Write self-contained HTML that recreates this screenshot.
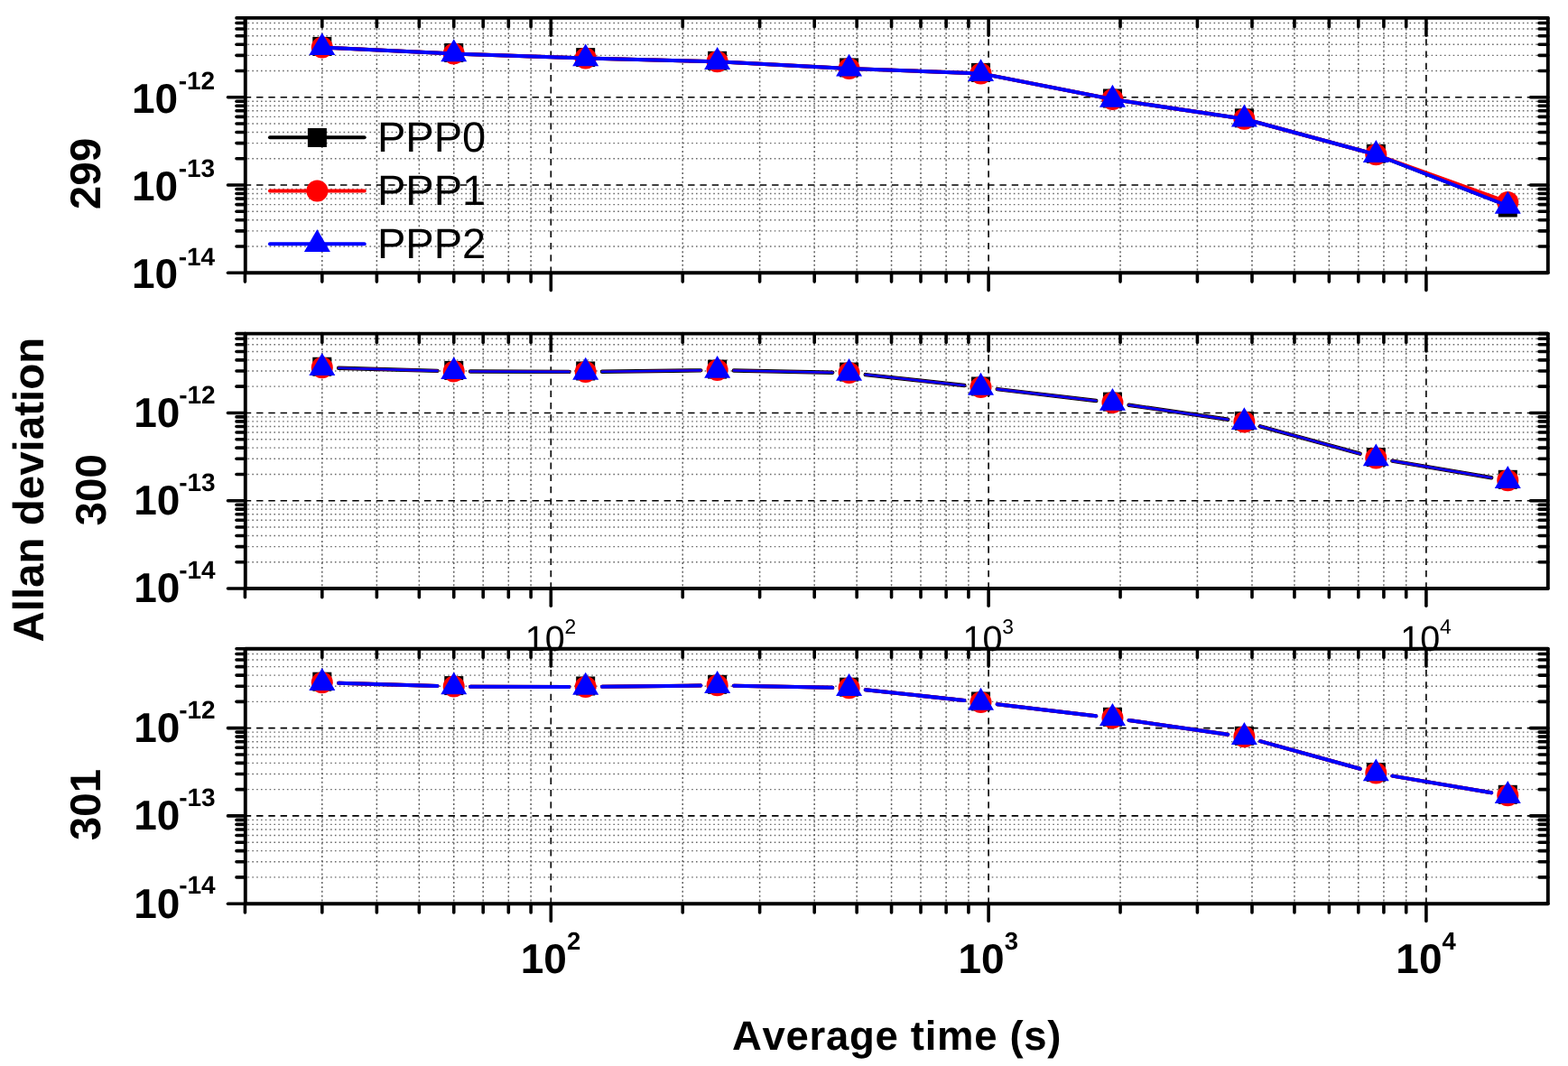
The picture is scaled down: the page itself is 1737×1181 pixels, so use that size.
<!DOCTYPE html>
<html><head><meta charset="utf-8"><title>Allan deviation</title>
<style>html,body{margin:0;padding:0;background:#fff;width:1737px;height:1181px;overflow:hidden}svg{display:block}</style>
</head><body>
<svg width="1737" height="1181" viewBox="0 0 1737 1181" style="font-kerning:none;text-rendering:geometricPrecision">
<rect width="1737" height="1181" fill="#fff"/>
<g fill="none">
<line x1="356.81" y1="19.9" x2="356.81" y2="302.3" stroke="#606060" stroke-width="1.5" stroke-dasharray="2 2.84" stroke-dashoffset="3.04"/>
<line x1="417.38" y1="19.9" x2="417.38" y2="302.3" stroke="#606060" stroke-width="1.5" stroke-dasharray="2 2.84" stroke-dashoffset="3.04"/>
<line x1="464.36" y1="19.9" x2="464.36" y2="302.3" stroke="#606060" stroke-width="1.5" stroke-dasharray="2 2.84" stroke-dashoffset="3.04"/>
<line x1="502.75" y1="19.9" x2="502.75" y2="302.3" stroke="#606060" stroke-width="1.5" stroke-dasharray="2 2.84" stroke-dashoffset="3.04"/>
<line x1="535.2" y1="19.9" x2="535.2" y2="302.3" stroke="#606060" stroke-width="1.5" stroke-dasharray="2 2.84" stroke-dashoffset="3.04"/>
<line x1="563.32" y1="19.9" x2="563.32" y2="302.3" stroke="#606060" stroke-width="1.5" stroke-dasharray="2 2.84" stroke-dashoffset="3.04"/>
<line x1="588.12" y1="19.9" x2="588.12" y2="302.3" stroke="#606060" stroke-width="1.5" stroke-dasharray="2 2.84" stroke-dashoffset="3.04"/>
<line x1="756.24" y1="19.9" x2="756.24" y2="302.3" stroke="#606060" stroke-width="1.5" stroke-dasharray="2 2.84" stroke-dashoffset="3.04"/>
<line x1="841.61" y1="19.9" x2="841.61" y2="302.3" stroke="#606060" stroke-width="1.5" stroke-dasharray="2 2.84" stroke-dashoffset="3.04"/>
<line x1="902.18" y1="19.9" x2="902.18" y2="302.3" stroke="#606060" stroke-width="1.5" stroke-dasharray="2 2.84" stroke-dashoffset="3.04"/>
<line x1="949.16" y1="19.9" x2="949.16" y2="302.3" stroke="#606060" stroke-width="1.5" stroke-dasharray="2 2.84" stroke-dashoffset="3.04"/>
<line x1="987.55" y1="19.9" x2="987.55" y2="302.3" stroke="#606060" stroke-width="1.5" stroke-dasharray="2 2.84" stroke-dashoffset="3.04"/>
<line x1="1020" y1="19.9" x2="1020" y2="302.3" stroke="#606060" stroke-width="1.5" stroke-dasharray="2 2.84" stroke-dashoffset="3.04"/>
<line x1="1048.12" y1="19.9" x2="1048.12" y2="302.3" stroke="#606060" stroke-width="1.5" stroke-dasharray="2 2.84" stroke-dashoffset="3.04"/>
<line x1="1072.92" y1="19.9" x2="1072.92" y2="302.3" stroke="#606060" stroke-width="1.5" stroke-dasharray="2 2.84" stroke-dashoffset="3.04"/>
<line x1="1241.04" y1="19.9" x2="1241.04" y2="302.3" stroke="#606060" stroke-width="1.5" stroke-dasharray="2 2.84" stroke-dashoffset="3.04"/>
<line x1="1326.41" y1="19.9" x2="1326.41" y2="302.3" stroke="#606060" stroke-width="1.5" stroke-dasharray="2 2.84" stroke-dashoffset="3.04"/>
<line x1="1386.98" y1="19.9" x2="1386.98" y2="302.3" stroke="#606060" stroke-width="1.5" stroke-dasharray="2 2.84" stroke-dashoffset="3.04"/>
<line x1="1433.96" y1="19.9" x2="1433.96" y2="302.3" stroke="#606060" stroke-width="1.5" stroke-dasharray="2 2.84" stroke-dashoffset="3.04"/>
<line x1="1472.35" y1="19.9" x2="1472.35" y2="302.3" stroke="#606060" stroke-width="1.5" stroke-dasharray="2 2.84" stroke-dashoffset="3.04"/>
<line x1="1504.8" y1="19.9" x2="1504.8" y2="302.3" stroke="#606060" stroke-width="1.5" stroke-dasharray="2 2.84" stroke-dashoffset="3.04"/>
<line x1="1532.92" y1="19.9" x2="1532.92" y2="302.3" stroke="#606060" stroke-width="1.5" stroke-dasharray="2 2.84" stroke-dashoffset="3.04"/>
<line x1="1557.72" y1="19.9" x2="1557.72" y2="302.3" stroke="#606060" stroke-width="1.5" stroke-dasharray="2 2.84" stroke-dashoffset="3.04"/>
<line x1="271.8" y1="273.02" x2="1714.8" y2="273.02" stroke="#6a6a6a" stroke-width="1.4" stroke-dasharray="1.6 3.22" stroke-dashoffset="2.1"/>
<line x1="271.8" y1="255.89" x2="1714.8" y2="255.89" stroke="#6a6a6a" stroke-width="1.4" stroke-dasharray="1.6 3.22" stroke-dashoffset="2.1"/>
<line x1="271.8" y1="243.73" x2="1714.8" y2="243.73" stroke="#6a6a6a" stroke-width="1.4" stroke-dasharray="1.6 3.22" stroke-dashoffset="2.1"/>
<line x1="271.8" y1="234.31" x2="1714.8" y2="234.31" stroke="#6a6a6a" stroke-width="1.4" stroke-dasharray="1.6 3.22" stroke-dashoffset="2.1"/>
<line x1="271.8" y1="226.6" x2="1714.8" y2="226.6" stroke="#6a6a6a" stroke-width="1.4" stroke-dasharray="1.6 3.22" stroke-dashoffset="2.1"/>
<line x1="271.8" y1="220.09" x2="1714.8" y2="220.09" stroke="#6a6a6a" stroke-width="1.4" stroke-dasharray="1.6 3.22" stroke-dashoffset="2.1"/>
<line x1="271.8" y1="214.45" x2="1714.8" y2="214.45" stroke="#6a6a6a" stroke-width="1.4" stroke-dasharray="1.6 3.22" stroke-dashoffset="2.1"/>
<line x1="271.8" y1="209.48" x2="1714.8" y2="209.48" stroke="#6a6a6a" stroke-width="1.4" stroke-dasharray="1.6 3.22" stroke-dashoffset="2.1"/>
<line x1="271.8" y1="175.74" x2="1714.8" y2="175.74" stroke="#6a6a6a" stroke-width="1.4" stroke-dasharray="1.6 3.22" stroke-dashoffset="2.1"/>
<line x1="271.8" y1="158.61" x2="1714.8" y2="158.61" stroke="#6a6a6a" stroke-width="1.4" stroke-dasharray="1.6 3.22" stroke-dashoffset="2.1"/>
<line x1="271.8" y1="146.46" x2="1714.8" y2="146.46" stroke="#6a6a6a" stroke-width="1.4" stroke-dasharray="1.6 3.22" stroke-dashoffset="2.1"/>
<line x1="271.8" y1="137.03" x2="1714.8" y2="137.03" stroke="#6a6a6a" stroke-width="1.4" stroke-dasharray="1.6 3.22" stroke-dashoffset="2.1"/>
<line x1="271.8" y1="129.33" x2="1714.8" y2="129.33" stroke="#6a6a6a" stroke-width="1.4" stroke-dasharray="1.6 3.22" stroke-dashoffset="2.1"/>
<line x1="271.8" y1="122.82" x2="1714.8" y2="122.82" stroke="#6a6a6a" stroke-width="1.4" stroke-dasharray="1.6 3.22" stroke-dashoffset="2.1"/>
<line x1="271.8" y1="117.18" x2="1714.8" y2="117.18" stroke="#6a6a6a" stroke-width="1.4" stroke-dasharray="1.6 3.22" stroke-dashoffset="2.1"/>
<line x1="271.8" y1="112.2" x2="1714.8" y2="112.2" stroke="#6a6a6a" stroke-width="1.4" stroke-dasharray="1.6 3.22" stroke-dashoffset="2.1"/>
<line x1="271.8" y1="78.47" x2="1714.8" y2="78.47" stroke="#6a6a6a" stroke-width="1.4" stroke-dasharray="1.6 3.22" stroke-dashoffset="2.1"/>
<line x1="271.8" y1="61.34" x2="1714.8" y2="61.34" stroke="#6a6a6a" stroke-width="1.4" stroke-dasharray="1.6 3.22" stroke-dashoffset="2.1"/>
<line x1="271.8" y1="49.18" x2="1714.8" y2="49.18" stroke="#6a6a6a" stroke-width="1.4" stroke-dasharray="1.6 3.22" stroke-dashoffset="2.1"/>
<line x1="271.8" y1="39.76" x2="1714.8" y2="39.76" stroke="#6a6a6a" stroke-width="1.4" stroke-dasharray="1.6 3.22" stroke-dashoffset="2.1"/>
<line x1="271.8" y1="32.05" x2="1714.8" y2="32.05" stroke="#6a6a6a" stroke-width="1.4" stroke-dasharray="1.6 3.22" stroke-dashoffset="2.1"/>
<line x1="271.8" y1="25.54" x2="1714.8" y2="25.54" stroke="#6a6a6a" stroke-width="1.4" stroke-dasharray="1.6 3.22" stroke-dashoffset="2.1"/>
</g>
<g stroke="#000" stroke-width="1.6" fill="none">
<line x1="610.3" y1="19.9" x2="610.3" y2="302.3" stroke-dasharray="7.3 5.98" stroke-dashoffset="3.28"/>
<line x1="1095.1" y1="19.9" x2="1095.1" y2="302.3" stroke-dasharray="7.3 5.98" stroke-dashoffset="3.28"/>
<line x1="1579.9" y1="19.9" x2="1579.9" y2="302.3" stroke-dasharray="7.3 5.98" stroke-dashoffset="3.28"/>
<line x1="271.8" y1="107.75" x2="1714.8" y2="107.75" stroke-dasharray="7.4 5.88" stroke-dashoffset="1.0"/>
<line x1="271.8" y1="205.02" x2="1714.8" y2="205.02" stroke-dasharray="7.4 5.88" stroke-dashoffset="1.0"/>
</g>
<g fill="none">
<line x1="356.81" y1="369.6" x2="356.81" y2="652" stroke="#606060" stroke-width="1.5" stroke-dasharray="2 2.84" stroke-dashoffset="3.04"/>
<line x1="417.38" y1="369.6" x2="417.38" y2="652" stroke="#606060" stroke-width="1.5" stroke-dasharray="2 2.84" stroke-dashoffset="3.04"/>
<line x1="464.36" y1="369.6" x2="464.36" y2="652" stroke="#606060" stroke-width="1.5" stroke-dasharray="2 2.84" stroke-dashoffset="3.04"/>
<line x1="502.75" y1="369.6" x2="502.75" y2="652" stroke="#606060" stroke-width="1.5" stroke-dasharray="2 2.84" stroke-dashoffset="3.04"/>
<line x1="535.2" y1="369.6" x2="535.2" y2="652" stroke="#606060" stroke-width="1.5" stroke-dasharray="2 2.84" stroke-dashoffset="3.04"/>
<line x1="563.32" y1="369.6" x2="563.32" y2="652" stroke="#606060" stroke-width="1.5" stroke-dasharray="2 2.84" stroke-dashoffset="3.04"/>
<line x1="588.12" y1="369.6" x2="588.12" y2="652" stroke="#606060" stroke-width="1.5" stroke-dasharray="2 2.84" stroke-dashoffset="3.04"/>
<line x1="756.24" y1="369.6" x2="756.24" y2="652" stroke="#606060" stroke-width="1.5" stroke-dasharray="2 2.84" stroke-dashoffset="3.04"/>
<line x1="841.61" y1="369.6" x2="841.61" y2="652" stroke="#606060" stroke-width="1.5" stroke-dasharray="2 2.84" stroke-dashoffset="3.04"/>
<line x1="902.18" y1="369.6" x2="902.18" y2="652" stroke="#606060" stroke-width="1.5" stroke-dasharray="2 2.84" stroke-dashoffset="3.04"/>
<line x1="949.16" y1="369.6" x2="949.16" y2="652" stroke="#606060" stroke-width="1.5" stroke-dasharray="2 2.84" stroke-dashoffset="3.04"/>
<line x1="987.55" y1="369.6" x2="987.55" y2="652" stroke="#606060" stroke-width="1.5" stroke-dasharray="2 2.84" stroke-dashoffset="3.04"/>
<line x1="1020" y1="369.6" x2="1020" y2="652" stroke="#606060" stroke-width="1.5" stroke-dasharray="2 2.84" stroke-dashoffset="3.04"/>
<line x1="1048.12" y1="369.6" x2="1048.12" y2="652" stroke="#606060" stroke-width="1.5" stroke-dasharray="2 2.84" stroke-dashoffset="3.04"/>
<line x1="1072.92" y1="369.6" x2="1072.92" y2="652" stroke="#606060" stroke-width="1.5" stroke-dasharray="2 2.84" stroke-dashoffset="3.04"/>
<line x1="1241.04" y1="369.6" x2="1241.04" y2="652" stroke="#606060" stroke-width="1.5" stroke-dasharray="2 2.84" stroke-dashoffset="3.04"/>
<line x1="1326.41" y1="369.6" x2="1326.41" y2="652" stroke="#606060" stroke-width="1.5" stroke-dasharray="2 2.84" stroke-dashoffset="3.04"/>
<line x1="1386.98" y1="369.6" x2="1386.98" y2="652" stroke="#606060" stroke-width="1.5" stroke-dasharray="2 2.84" stroke-dashoffset="3.04"/>
<line x1="1433.96" y1="369.6" x2="1433.96" y2="652" stroke="#606060" stroke-width="1.5" stroke-dasharray="2 2.84" stroke-dashoffset="3.04"/>
<line x1="1472.35" y1="369.6" x2="1472.35" y2="652" stroke="#606060" stroke-width="1.5" stroke-dasharray="2 2.84" stroke-dashoffset="3.04"/>
<line x1="1504.8" y1="369.6" x2="1504.8" y2="652" stroke="#606060" stroke-width="1.5" stroke-dasharray="2 2.84" stroke-dashoffset="3.04"/>
<line x1="1532.92" y1="369.6" x2="1532.92" y2="652" stroke="#606060" stroke-width="1.5" stroke-dasharray="2 2.84" stroke-dashoffset="3.04"/>
<line x1="1557.72" y1="369.6" x2="1557.72" y2="652" stroke="#606060" stroke-width="1.5" stroke-dasharray="2 2.84" stroke-dashoffset="3.04"/>
<line x1="271.8" y1="622.72" x2="1714.8" y2="622.72" stroke="#6a6a6a" stroke-width="1.4" stroke-dasharray="1.6 3.22" stroke-dashoffset="2.1"/>
<line x1="271.8" y1="605.59" x2="1714.8" y2="605.59" stroke="#6a6a6a" stroke-width="1.4" stroke-dasharray="1.6 3.22" stroke-dashoffset="2.1"/>
<line x1="271.8" y1="593.43" x2="1714.8" y2="593.43" stroke="#6a6a6a" stroke-width="1.4" stroke-dasharray="1.6 3.22" stroke-dashoffset="2.1"/>
<line x1="271.8" y1="584.01" x2="1714.8" y2="584.01" stroke="#6a6a6a" stroke-width="1.4" stroke-dasharray="1.6 3.22" stroke-dashoffset="2.1"/>
<line x1="271.8" y1="576.3" x2="1714.8" y2="576.3" stroke="#6a6a6a" stroke-width="1.4" stroke-dasharray="1.6 3.22" stroke-dashoffset="2.1"/>
<line x1="271.8" y1="569.79" x2="1714.8" y2="569.79" stroke="#6a6a6a" stroke-width="1.4" stroke-dasharray="1.6 3.22" stroke-dashoffset="2.1"/>
<line x1="271.8" y1="564.15" x2="1714.8" y2="564.15" stroke="#6a6a6a" stroke-width="1.4" stroke-dasharray="1.6 3.22" stroke-dashoffset="2.1"/>
<line x1="271.8" y1="559.18" x2="1714.8" y2="559.18" stroke="#6a6a6a" stroke-width="1.4" stroke-dasharray="1.6 3.22" stroke-dashoffset="2.1"/>
<line x1="271.8" y1="525.44" x2="1714.8" y2="525.44" stroke="#6a6a6a" stroke-width="1.4" stroke-dasharray="1.6 3.22" stroke-dashoffset="2.1"/>
<line x1="271.8" y1="508.31" x2="1714.8" y2="508.31" stroke="#6a6a6a" stroke-width="1.4" stroke-dasharray="1.6 3.22" stroke-dashoffset="2.1"/>
<line x1="271.8" y1="496.16" x2="1714.8" y2="496.16" stroke="#6a6a6a" stroke-width="1.4" stroke-dasharray="1.6 3.22" stroke-dashoffset="2.1"/>
<line x1="271.8" y1="486.73" x2="1714.8" y2="486.73" stroke="#6a6a6a" stroke-width="1.4" stroke-dasharray="1.6 3.22" stroke-dashoffset="2.1"/>
<line x1="271.8" y1="479.03" x2="1714.8" y2="479.03" stroke="#6a6a6a" stroke-width="1.4" stroke-dasharray="1.6 3.22" stroke-dashoffset="2.1"/>
<line x1="271.8" y1="472.52" x2="1714.8" y2="472.52" stroke="#6a6a6a" stroke-width="1.4" stroke-dasharray="1.6 3.22" stroke-dashoffset="2.1"/>
<line x1="271.8" y1="466.88" x2="1714.8" y2="466.88" stroke="#6a6a6a" stroke-width="1.4" stroke-dasharray="1.6 3.22" stroke-dashoffset="2.1"/>
<line x1="271.8" y1="461.9" x2="1714.8" y2="461.9" stroke="#6a6a6a" stroke-width="1.4" stroke-dasharray="1.6 3.22" stroke-dashoffset="2.1"/>
<line x1="271.8" y1="428.17" x2="1714.8" y2="428.17" stroke="#6a6a6a" stroke-width="1.4" stroke-dasharray="1.6 3.22" stroke-dashoffset="2.1"/>
<line x1="271.8" y1="411.04" x2="1714.8" y2="411.04" stroke="#6a6a6a" stroke-width="1.4" stroke-dasharray="1.6 3.22" stroke-dashoffset="2.1"/>
<line x1="271.8" y1="398.88" x2="1714.8" y2="398.88" stroke="#6a6a6a" stroke-width="1.4" stroke-dasharray="1.6 3.22" stroke-dashoffset="2.1"/>
<line x1="271.8" y1="389.46" x2="1714.8" y2="389.46" stroke="#6a6a6a" stroke-width="1.4" stroke-dasharray="1.6 3.22" stroke-dashoffset="2.1"/>
<line x1="271.8" y1="381.75" x2="1714.8" y2="381.75" stroke="#6a6a6a" stroke-width="1.4" stroke-dasharray="1.6 3.22" stroke-dashoffset="2.1"/>
<line x1="271.8" y1="375.24" x2="1714.8" y2="375.24" stroke="#6a6a6a" stroke-width="1.4" stroke-dasharray="1.6 3.22" stroke-dashoffset="2.1"/>
</g>
<g stroke="#000" stroke-width="1.6" fill="none">
<line x1="610.3" y1="369.6" x2="610.3" y2="652" stroke-dasharray="7.3 5.98" stroke-dashoffset="3.28"/>
<line x1="1095.1" y1="369.6" x2="1095.1" y2="652" stroke-dasharray="7.3 5.98" stroke-dashoffset="3.28"/>
<line x1="1579.9" y1="369.6" x2="1579.9" y2="652" stroke-dasharray="7.3 5.98" stroke-dashoffset="3.28"/>
<line x1="271.8" y1="457.45" x2="1714.8" y2="457.45" stroke-dasharray="7.4 5.88" stroke-dashoffset="1.0"/>
<line x1="271.8" y1="554.72" x2="1714.8" y2="554.72" stroke-dasharray="7.4 5.88" stroke-dashoffset="1.0"/>
</g>
<g fill="none">
<line x1="356.81" y1="718.8" x2="356.81" y2="1001.2" stroke="#606060" stroke-width="1.5" stroke-dasharray="2 2.84" stroke-dashoffset="3.04"/>
<line x1="417.38" y1="718.8" x2="417.38" y2="1001.2" stroke="#606060" stroke-width="1.5" stroke-dasharray="2 2.84" stroke-dashoffset="3.04"/>
<line x1="464.36" y1="718.8" x2="464.36" y2="1001.2" stroke="#606060" stroke-width="1.5" stroke-dasharray="2 2.84" stroke-dashoffset="3.04"/>
<line x1="502.75" y1="718.8" x2="502.75" y2="1001.2" stroke="#606060" stroke-width="1.5" stroke-dasharray="2 2.84" stroke-dashoffset="3.04"/>
<line x1="535.2" y1="718.8" x2="535.2" y2="1001.2" stroke="#606060" stroke-width="1.5" stroke-dasharray="2 2.84" stroke-dashoffset="3.04"/>
<line x1="563.32" y1="718.8" x2="563.32" y2="1001.2" stroke="#606060" stroke-width="1.5" stroke-dasharray="2 2.84" stroke-dashoffset="3.04"/>
<line x1="588.12" y1="718.8" x2="588.12" y2="1001.2" stroke="#606060" stroke-width="1.5" stroke-dasharray="2 2.84" stroke-dashoffset="3.04"/>
<line x1="756.24" y1="718.8" x2="756.24" y2="1001.2" stroke="#606060" stroke-width="1.5" stroke-dasharray="2 2.84" stroke-dashoffset="3.04"/>
<line x1="841.61" y1="718.8" x2="841.61" y2="1001.2" stroke="#606060" stroke-width="1.5" stroke-dasharray="2 2.84" stroke-dashoffset="3.04"/>
<line x1="902.18" y1="718.8" x2="902.18" y2="1001.2" stroke="#606060" stroke-width="1.5" stroke-dasharray="2 2.84" stroke-dashoffset="3.04"/>
<line x1="949.16" y1="718.8" x2="949.16" y2="1001.2" stroke="#606060" stroke-width="1.5" stroke-dasharray="2 2.84" stroke-dashoffset="3.04"/>
<line x1="987.55" y1="718.8" x2="987.55" y2="1001.2" stroke="#606060" stroke-width="1.5" stroke-dasharray="2 2.84" stroke-dashoffset="3.04"/>
<line x1="1020" y1="718.8" x2="1020" y2="1001.2" stroke="#606060" stroke-width="1.5" stroke-dasharray="2 2.84" stroke-dashoffset="3.04"/>
<line x1="1048.12" y1="718.8" x2="1048.12" y2="1001.2" stroke="#606060" stroke-width="1.5" stroke-dasharray="2 2.84" stroke-dashoffset="3.04"/>
<line x1="1072.92" y1="718.8" x2="1072.92" y2="1001.2" stroke="#606060" stroke-width="1.5" stroke-dasharray="2 2.84" stroke-dashoffset="3.04"/>
<line x1="1241.04" y1="718.8" x2="1241.04" y2="1001.2" stroke="#606060" stroke-width="1.5" stroke-dasharray="2 2.84" stroke-dashoffset="3.04"/>
<line x1="1326.41" y1="718.8" x2="1326.41" y2="1001.2" stroke="#606060" stroke-width="1.5" stroke-dasharray="2 2.84" stroke-dashoffset="3.04"/>
<line x1="1386.98" y1="718.8" x2="1386.98" y2="1001.2" stroke="#606060" stroke-width="1.5" stroke-dasharray="2 2.84" stroke-dashoffset="3.04"/>
<line x1="1433.96" y1="718.8" x2="1433.96" y2="1001.2" stroke="#606060" stroke-width="1.5" stroke-dasharray="2 2.84" stroke-dashoffset="3.04"/>
<line x1="1472.35" y1="718.8" x2="1472.35" y2="1001.2" stroke="#606060" stroke-width="1.5" stroke-dasharray="2 2.84" stroke-dashoffset="3.04"/>
<line x1="1504.8" y1="718.8" x2="1504.8" y2="1001.2" stroke="#606060" stroke-width="1.5" stroke-dasharray="2 2.84" stroke-dashoffset="3.04"/>
<line x1="1532.92" y1="718.8" x2="1532.92" y2="1001.2" stroke="#606060" stroke-width="1.5" stroke-dasharray="2 2.84" stroke-dashoffset="3.04"/>
<line x1="1557.72" y1="718.8" x2="1557.72" y2="1001.2" stroke="#606060" stroke-width="1.5" stroke-dasharray="2 2.84" stroke-dashoffset="3.04"/>
<line x1="271.8" y1="971.92" x2="1714.8" y2="971.92" stroke="#6a6a6a" stroke-width="1.4" stroke-dasharray="1.6 3.22" stroke-dashoffset="2.1"/>
<line x1="271.8" y1="954.79" x2="1714.8" y2="954.79" stroke="#6a6a6a" stroke-width="1.4" stroke-dasharray="1.6 3.22" stroke-dashoffset="2.1"/>
<line x1="271.8" y1="942.63" x2="1714.8" y2="942.63" stroke="#6a6a6a" stroke-width="1.4" stroke-dasharray="1.6 3.22" stroke-dashoffset="2.1"/>
<line x1="271.8" y1="933.21" x2="1714.8" y2="933.21" stroke="#6a6a6a" stroke-width="1.4" stroke-dasharray="1.6 3.22" stroke-dashoffset="2.1"/>
<line x1="271.8" y1="925.5" x2="1714.8" y2="925.5" stroke="#6a6a6a" stroke-width="1.4" stroke-dasharray="1.6 3.22" stroke-dashoffset="2.1"/>
<line x1="271.8" y1="918.99" x2="1714.8" y2="918.99" stroke="#6a6a6a" stroke-width="1.4" stroke-dasharray="1.6 3.22" stroke-dashoffset="2.1"/>
<line x1="271.8" y1="913.35" x2="1714.8" y2="913.35" stroke="#6a6a6a" stroke-width="1.4" stroke-dasharray="1.6 3.22" stroke-dashoffset="2.1"/>
<line x1="271.8" y1="908.38" x2="1714.8" y2="908.38" stroke="#6a6a6a" stroke-width="1.4" stroke-dasharray="1.6 3.22" stroke-dashoffset="2.1"/>
<line x1="271.8" y1="874.64" x2="1714.8" y2="874.64" stroke="#6a6a6a" stroke-width="1.4" stroke-dasharray="1.6 3.22" stroke-dashoffset="2.1"/>
<line x1="271.8" y1="857.51" x2="1714.8" y2="857.51" stroke="#6a6a6a" stroke-width="1.4" stroke-dasharray="1.6 3.22" stroke-dashoffset="2.1"/>
<line x1="271.8" y1="845.36" x2="1714.8" y2="845.36" stroke="#6a6a6a" stroke-width="1.4" stroke-dasharray="1.6 3.22" stroke-dashoffset="2.1"/>
<line x1="271.8" y1="835.93" x2="1714.8" y2="835.93" stroke="#6a6a6a" stroke-width="1.4" stroke-dasharray="1.6 3.22" stroke-dashoffset="2.1"/>
<line x1="271.8" y1="828.23" x2="1714.8" y2="828.23" stroke="#6a6a6a" stroke-width="1.4" stroke-dasharray="1.6 3.22" stroke-dashoffset="2.1"/>
<line x1="271.8" y1="821.72" x2="1714.8" y2="821.72" stroke="#6a6a6a" stroke-width="1.4" stroke-dasharray="1.6 3.22" stroke-dashoffset="2.1"/>
<line x1="271.8" y1="816.08" x2="1714.8" y2="816.08" stroke="#6a6a6a" stroke-width="1.4" stroke-dasharray="1.6 3.22" stroke-dashoffset="2.1"/>
<line x1="271.8" y1="811.1" x2="1714.8" y2="811.1" stroke="#6a6a6a" stroke-width="1.4" stroke-dasharray="1.6 3.22" stroke-dashoffset="2.1"/>
<line x1="271.8" y1="777.37" x2="1714.8" y2="777.37" stroke="#6a6a6a" stroke-width="1.4" stroke-dasharray="1.6 3.22" stroke-dashoffset="2.1"/>
<line x1="271.8" y1="760.24" x2="1714.8" y2="760.24" stroke="#6a6a6a" stroke-width="1.4" stroke-dasharray="1.6 3.22" stroke-dashoffset="2.1"/>
<line x1="271.8" y1="748.08" x2="1714.8" y2="748.08" stroke="#6a6a6a" stroke-width="1.4" stroke-dasharray="1.6 3.22" stroke-dashoffset="2.1"/>
<line x1="271.8" y1="738.66" x2="1714.8" y2="738.66" stroke="#6a6a6a" stroke-width="1.4" stroke-dasharray="1.6 3.22" stroke-dashoffset="2.1"/>
<line x1="271.8" y1="730.95" x2="1714.8" y2="730.95" stroke="#6a6a6a" stroke-width="1.4" stroke-dasharray="1.6 3.22" stroke-dashoffset="2.1"/>
<line x1="271.8" y1="724.44" x2="1714.8" y2="724.44" stroke="#6a6a6a" stroke-width="1.4" stroke-dasharray="1.6 3.22" stroke-dashoffset="2.1"/>
</g>
<g stroke="#000" stroke-width="1.6" fill="none">
<line x1="610.3" y1="718.8" x2="610.3" y2="1001.2" stroke-dasharray="7.3 5.98" stroke-dashoffset="3.28"/>
<line x1="1095.1" y1="718.8" x2="1095.1" y2="1001.2" stroke-dasharray="7.3 5.98" stroke-dashoffset="3.28"/>
<line x1="1579.9" y1="718.8" x2="1579.9" y2="1001.2" stroke-dasharray="7.3 5.98" stroke-dashoffset="3.28"/>
<line x1="271.8" y1="806.65" x2="1714.8" y2="806.65" stroke-dasharray="7.4 5.88" stroke-dashoffset="1.0"/>
<line x1="271.8" y1="903.92" x2="1714.8" y2="903.92" stroke-dasharray="7.4 5.88" stroke-dashoffset="1.0"/>
</g>
<line x1="299" y1="152.3" x2="403.7" y2="152.3" stroke="#000" stroke-width="4" stroke-linecap="round"/>
<rect x="340.9" y="142" width="21" height="21" fill="#000"/>
<text x="418" y="168.1" font-family="Liberation Sans, Arial, sans-serif" font-size="47">PPP0</text>
<line x1="299" y1="211.5" x2="403.7" y2="211.5" stroke="#f00" stroke-width="4" stroke-linecap="round"/>
<circle cx="351.4" cy="211.5" r="12.0" fill="#f00"/>
<text x="418" y="227.3" font-family="Liberation Sans, Arial, sans-serif" font-size="47">PPP1</text>
<line x1="299" y1="270.3" x2="403.7" y2="270.3" stroke="#00f" stroke-width="4" stroke-linecap="round"/>
<polygon points="351.4,254.1 365.9,278.9 336.9,278.9" fill="#00f"/>
<text x="418" y="286.1" font-family="Liberation Sans, Arial, sans-serif" font-size="47">PPP2</text>
<polyline points="356.81,52.4 502.75,59.5 648.69,64.6 794.63,68.3 940.57,75.9 1086.51,81.4 1232.44,110 1378.38,131.8 1524.32,171.3 1670.26,228" fill="none" stroke="#000" stroke-width="4" stroke-linejoin="round"/>
<rect x="346.31" y="40.9" width="21" height="21" fill="#000"/>
<rect x="492.25" y="48" width="21" height="21" fill="#000"/>
<rect x="638.19" y="53.1" width="21" height="21" fill="#000"/>
<rect x="784.13" y="56.8" width="21" height="21" fill="#000"/>
<rect x="930.07" y="64.4" width="21" height="21" fill="#000"/>
<rect x="1076.01" y="69.9" width="21" height="21" fill="#000"/>
<rect x="1221.94" y="98.5" width="21" height="21" fill="#000"/>
<rect x="1367.88" y="120.3" width="21" height="21" fill="#000"/>
<rect x="1513.82" y="159.8" width="21" height="21" fill="#000"/>
<rect x="1659.76" y="219.5" width="21" height="21" fill="#000"/>
<polyline points="356.81,52.4 502.75,59.5 648.69,64.6 794.63,68.3 940.57,75.9 1086.51,81.4 1232.44,110 1378.38,131.8 1524.32,171.3 1670.26,224" fill="none" stroke="#f00" stroke-width="4" stroke-linejoin="round"/>
<circle cx="356.81" cy="52.4" r="12.0" fill="#f00"/>
<circle cx="502.75" cy="59.5" r="12.0" fill="#f00"/>
<circle cx="648.69" cy="64.6" r="12.0" fill="#f00"/>
<circle cx="794.63" cy="68.3" r="12.0" fill="#f00"/>
<circle cx="940.57" cy="75.9" r="12.0" fill="#f00"/>
<circle cx="1086.51" cy="81.4" r="12.0" fill="#f00"/>
<circle cx="1232.44" cy="110" r="12.0" fill="#f00"/>
<circle cx="1378.38" cy="131.8" r="12.0" fill="#f00"/>
<circle cx="1524.32" cy="171.3" r="12.0" fill="#f00"/>
<circle cx="1670.26" cy="224" r="12.0" fill="#f00"/>
<polyline points="356.81,52.4 502.75,59.5 648.69,64.6 794.63,68.3 940.57,75.9 1086.51,81.4 1232.44,110 1378.38,131.8 1524.32,171.3 1670.26,228" fill="none" stroke="#00f" stroke-width="4" stroke-linejoin="round"/>
<polygon points="356.81,36.2 371.31,61.1 342.31,61.1" fill="#00f"/>
<polygon points="502.75,43.3 517.25,68.2 488.25,68.2" fill="#00f"/>
<polygon points="648.69,48.4 663.19,73.3 634.19,73.3" fill="#00f"/>
<polygon points="794.63,52.1 809.13,77 780.13,77" fill="#00f"/>
<polygon points="940.57,59.7 955.07,84.6 926.07,84.6" fill="#00f"/>
<polygon points="1086.51,65.2 1101.01,90.1 1072.01,90.1" fill="#00f"/>
<polygon points="1232.44,93.8 1246.94,118.7 1217.94,118.7" fill="#00f"/>
<polygon points="1378.38,115.6 1392.88,140.5 1363.88,140.5" fill="#00f"/>
<polygon points="1524.32,155.1 1538.82,180 1509.82,180" fill="#00f"/>
<polygon points="1670.26,211.8 1684.76,236.7 1655.76,236.7" fill="#00f"/>
<g stroke="#000" stroke-width="4.4" stroke-linecap="round">
<line x1="375.1" y1="407.77" x2="484.46" y2="410.88" />
<line x1="521.05" y1="411.48" x2="630.39" y2="411.92" />
<line x1="666.99" y1="411.76" x2="776.33" y2="410.34" />
<line x1="812.92" y1="410.48" x2="922.27" y2="412.72" />
<line x1="958.76" y1="415.08" x2="1068.31" y2="427.02" />
<line x1="1104.68" y1="431.13" x2="1214.27" y2="443.97" />
<line x1="1250.55" y1="448.74" x2="1360.28" y2="464.76" />
<line x1="1396.03" y1="472.26" x2="1506.68" y2="502.74" />
<line x1="1542.37" y1="510.65" x2="1652.22" y2="529.25" />
</g>
<rect x="346.31" y="395.75" width="21" height="21" fill="#000"/>
<rect x="492.25" y="399.9" width="21" height="21" fill="#000"/>
<rect x="638.19" y="400.5" width="21" height="21" fill="#000"/>
<rect x="784.13" y="398.6" width="21" height="21" fill="#000"/>
<rect x="930.07" y="401.6" width="21" height="21" fill="#000"/>
<rect x="1076.01" y="417.5" width="21" height="21" fill="#000"/>
<rect x="1221.94" y="434.6" width="21" height="21" fill="#000"/>
<rect x="1367.88" y="455.9" width="21" height="21" fill="#000"/>
<rect x="1513.82" y="496.1" width="21" height="21" fill="#000"/>
<rect x="1659.76" y="520.8" width="21" height="21" fill="#000"/>
<g stroke="#f00" stroke-width="2.6" stroke-linecap="round">
<line x1="375.1" y1="407.77" x2="484.46" y2="410.88" />
<line x1="521.05" y1="411.48" x2="630.39" y2="411.92" />
<line x1="666.99" y1="411.76" x2="776.33" y2="410.34" />
<line x1="812.92" y1="410.48" x2="922.27" y2="412.72" />
<line x1="958.76" y1="415.08" x2="1068.31" y2="427.02" />
<line x1="1104.68" y1="431.13" x2="1214.27" y2="443.97" />
<line x1="1250.55" y1="448.74" x2="1360.28" y2="464.76" />
<line x1="1396.03" y1="472.26" x2="1506.68" y2="502.74" />
<line x1="1542.37" y1="510.65" x2="1652.22" y2="529.25" />
</g>
<circle cx="356.81" cy="407.25" r="12.0" fill="#f00"/>
<circle cx="502.75" cy="411.4" r="12.0" fill="#f00"/>
<circle cx="648.69" cy="412" r="12.0" fill="#f00"/>
<circle cx="794.63" cy="410.1" r="12.0" fill="#f00"/>
<circle cx="940.57" cy="413.1" r="12.0" fill="#f00"/>
<circle cx="1086.51" cy="429" r="12.0" fill="#f00"/>
<circle cx="1232.44" cy="446.1" r="12.0" fill="#f00"/>
<circle cx="1378.38" cy="467.4" r="12.0" fill="#f00"/>
<circle cx="1524.32" cy="507.6" r="12.0" fill="#f00"/>
<circle cx="1670.26" cy="532.3" r="12.0" fill="#f00"/>
<g stroke="#00f" stroke-width="2.6" stroke-linecap="round">
<line x1="375.1" y1="407.77" x2="484.46" y2="410.88" />
<line x1="521.05" y1="411.48" x2="630.39" y2="411.92" />
<line x1="666.99" y1="411.76" x2="776.33" y2="410.34" />
<line x1="812.92" y1="410.48" x2="922.27" y2="412.72" />
<line x1="958.76" y1="415.08" x2="1068.31" y2="427.02" />
<line x1="1104.68" y1="431.13" x2="1214.27" y2="443.97" />
<line x1="1250.55" y1="448.74" x2="1360.28" y2="464.76" />
<line x1="1396.03" y1="472.26" x2="1506.68" y2="502.74" />
<line x1="1542.37" y1="510.65" x2="1652.22" y2="529.25" />
</g>
<polygon points="356.81,391.05 371.31,415.95 342.31,415.95" fill="#00f"/>
<polygon points="502.75,395.2 517.25,420.1 488.25,420.1" fill="#00f"/>
<polygon points="648.69,395.8 663.19,420.7 634.19,420.7" fill="#00f"/>
<polygon points="794.63,393.9 809.13,418.8 780.13,418.8" fill="#00f"/>
<polygon points="940.57,396.9 955.07,421.8 926.07,421.8" fill="#00f"/>
<polygon points="1086.51,412.8 1101.01,437.7 1072.01,437.7" fill="#00f"/>
<polygon points="1232.44,429.9 1246.94,454.8 1217.94,454.8" fill="#00f"/>
<polygon points="1378.38,451.2 1392.88,476.1 1363.88,476.1" fill="#00f"/>
<polygon points="1524.32,491.4 1538.82,516.3 1509.82,516.3" fill="#00f"/>
<polygon points="1670.26,516.1 1684.76,541 1655.76,541" fill="#00f"/>
<g stroke="#000" stroke-width="4.0" stroke-linecap="round">
<line x1="375.1" y1="756.75" x2="484.46" y2="760.05" />
<line x1="521.05" y1="760.65" x2="630.39" y2="760.95" />
<line x1="666.99" y1="760.79" x2="776.33" y2="759.51" />
<line x1="812.92" y1="759.66" x2="922.27" y2="761.84" />
<line x1="958.76" y1="764.17" x2="1068.31" y2="776.03" />
<line x1="1104.68" y1="780.15" x2="1214.27" y2="793.15" />
<line x1="1250.56" y1="797.91" x2="1360.27" y2="813.69" />
<line x1="1396.02" y1="821.17" x2="1506.68" y2="851.73" />
<line x1="1542.37" y1="859.65" x2="1652.22" y2="878.25" />
</g>
<rect x="346.31" y="744.7" width="21" height="21" fill="#000"/>
<rect x="492.25" y="749.1" width="21" height="21" fill="#000"/>
<rect x="638.19" y="749.5" width="21" height="21" fill="#000"/>
<rect x="784.13" y="747.8" width="21" height="21" fill="#000"/>
<rect x="930.07" y="750.7" width="21" height="21" fill="#000"/>
<rect x="1076.01" y="766.5" width="21" height="21" fill="#000"/>
<rect x="1221.94" y="783.8" width="21" height="21" fill="#000"/>
<rect x="1367.88" y="804.8" width="21" height="21" fill="#000"/>
<rect x="1513.82" y="845.1" width="21" height="21" fill="#000"/>
<rect x="1659.76" y="869.8" width="21" height="21" fill="#000"/>
<g stroke="#f00" stroke-width="4.0" stroke-linecap="round">
<line x1="375.1" y1="756.75" x2="484.46" y2="760.05" />
<line x1="521.05" y1="760.65" x2="630.39" y2="760.95" />
<line x1="666.99" y1="760.79" x2="776.33" y2="759.51" />
<line x1="812.92" y1="759.66" x2="922.27" y2="761.84" />
<line x1="958.76" y1="764.17" x2="1068.31" y2="776.03" />
<line x1="1104.68" y1="780.15" x2="1214.27" y2="793.15" />
<line x1="1250.56" y1="797.91" x2="1360.27" y2="813.69" />
<line x1="1396.02" y1="821.17" x2="1506.68" y2="851.73" />
<line x1="1542.37" y1="859.65" x2="1652.22" y2="878.25" />
</g>
<circle cx="356.81" cy="756.2" r="12.0" fill="#f00"/>
<circle cx="502.75" cy="760.6" r="12.0" fill="#f00"/>
<circle cx="648.69" cy="761" r="12.0" fill="#f00"/>
<circle cx="794.63" cy="759.3" r="12.0" fill="#f00"/>
<circle cx="940.57" cy="762.2" r="12.0" fill="#f00"/>
<circle cx="1086.51" cy="778" r="12.0" fill="#f00"/>
<circle cx="1232.44" cy="795.3" r="12.0" fill="#f00"/>
<circle cx="1378.38" cy="816.3" r="12.0" fill="#f00"/>
<circle cx="1524.32" cy="856.6" r="12.0" fill="#f00"/>
<circle cx="1670.26" cy="881.3" r="12.0" fill="#f00"/>
<g stroke="#00f" stroke-width="4.0" stroke-linecap="round">
<line x1="375.1" y1="756.75" x2="484.46" y2="760.05" />
<line x1="521.05" y1="760.65" x2="630.39" y2="760.95" />
<line x1="666.99" y1="760.79" x2="776.33" y2="759.51" />
<line x1="812.92" y1="759.66" x2="922.27" y2="761.84" />
<line x1="958.76" y1="764.17" x2="1068.31" y2="776.03" />
<line x1="1104.68" y1="780.15" x2="1214.27" y2="793.15" />
<line x1="1250.56" y1="797.91" x2="1360.27" y2="813.69" />
<line x1="1396.02" y1="821.17" x2="1506.68" y2="851.73" />
<line x1="1542.37" y1="859.65" x2="1652.22" y2="878.25" />
</g>
<polygon points="356.81,740 371.31,764.9 342.31,764.9" fill="#00f"/>
<polygon points="502.75,744.4 517.25,769.3 488.25,769.3" fill="#00f"/>
<polygon points="648.69,744.8 663.19,769.7 634.19,769.7" fill="#00f"/>
<polygon points="794.63,743.1 809.13,768 780.13,768" fill="#00f"/>
<polygon points="940.57,746 955.07,770.9 926.07,770.9" fill="#00f"/>
<polygon points="1086.51,761.8 1101.01,786.7 1072.01,786.7" fill="#00f"/>
<polygon points="1232.44,779.1 1246.94,804 1217.94,804" fill="#00f"/>
<polygon points="1378.38,800.1 1392.88,825 1363.88,825" fill="#00f"/>
<polygon points="1524.32,840.4 1538.82,865.3 1509.82,865.3" fill="#00f"/>
<polygon points="1670.26,865.1 1684.76,890 1655.76,890" fill="#00f"/>
<g stroke="#000" stroke-width="3.6" stroke-linecap="round" fill="none">
<line x1="356.81" y1="19.9" x2="356.81" y2="29.7" />
<line x1="356.81" y1="302.3" x2="356.81" y2="312.1" />
<line x1="417.38" y1="19.9" x2="417.38" y2="29.7" />
<line x1="417.38" y1="302.3" x2="417.38" y2="312.1" />
<line x1="464.36" y1="19.9" x2="464.36" y2="29.7" />
<line x1="464.36" y1="302.3" x2="464.36" y2="312.1" />
<line x1="502.75" y1="19.9" x2="502.75" y2="29.7" />
<line x1="502.75" y1="302.3" x2="502.75" y2="312.1" />
<line x1="535.2" y1="19.9" x2="535.2" y2="29.7" />
<line x1="535.2" y1="302.3" x2="535.2" y2="312.1" />
<line x1="563.32" y1="19.9" x2="563.32" y2="29.7" />
<line x1="563.32" y1="302.3" x2="563.32" y2="312.1" />
<line x1="588.12" y1="19.9" x2="588.12" y2="29.7" />
<line x1="588.12" y1="302.3" x2="588.12" y2="312.1" />
<line x1="756.24" y1="19.9" x2="756.24" y2="29.7" />
<line x1="756.24" y1="302.3" x2="756.24" y2="312.1" />
<line x1="841.61" y1="19.9" x2="841.61" y2="29.7" />
<line x1="841.61" y1="302.3" x2="841.61" y2="312.1" />
<line x1="902.18" y1="19.9" x2="902.18" y2="29.7" />
<line x1="902.18" y1="302.3" x2="902.18" y2="312.1" />
<line x1="949.16" y1="19.9" x2="949.16" y2="29.7" />
<line x1="949.16" y1="302.3" x2="949.16" y2="312.1" />
<line x1="987.55" y1="19.9" x2="987.55" y2="29.7" />
<line x1="987.55" y1="302.3" x2="987.55" y2="312.1" />
<line x1="1020" y1="19.9" x2="1020" y2="29.7" />
<line x1="1020" y1="302.3" x2="1020" y2="312.1" />
<line x1="1048.12" y1="19.9" x2="1048.12" y2="29.7" />
<line x1="1048.12" y1="302.3" x2="1048.12" y2="312.1" />
<line x1="1072.92" y1="19.9" x2="1072.92" y2="29.7" />
<line x1="1072.92" y1="302.3" x2="1072.92" y2="312.1" />
<line x1="1241.04" y1="19.9" x2="1241.04" y2="29.7" />
<line x1="1241.04" y1="302.3" x2="1241.04" y2="312.1" />
<line x1="1326.41" y1="19.9" x2="1326.41" y2="29.7" />
<line x1="1326.41" y1="302.3" x2="1326.41" y2="312.1" />
<line x1="1386.98" y1="19.9" x2="1386.98" y2="29.7" />
<line x1="1386.98" y1="302.3" x2="1386.98" y2="312.1" />
<line x1="1433.96" y1="19.9" x2="1433.96" y2="29.7" />
<line x1="1433.96" y1="302.3" x2="1433.96" y2="312.1" />
<line x1="1472.35" y1="19.9" x2="1472.35" y2="29.7" />
<line x1="1472.35" y1="302.3" x2="1472.35" y2="312.1" />
<line x1="1504.8" y1="19.9" x2="1504.8" y2="29.7" />
<line x1="1504.8" y1="302.3" x2="1504.8" y2="312.1" />
<line x1="1532.92" y1="19.9" x2="1532.92" y2="29.7" />
<line x1="1532.92" y1="302.3" x2="1532.92" y2="312.1" />
<line x1="1557.72" y1="19.9" x2="1557.72" y2="29.7" />
<line x1="1557.72" y1="302.3" x2="1557.72" y2="312.1" />
<line x1="271.44" y1="19.9" x2="271.44" y2="29.7" />
<line x1="271.44" y1="302.3" x2="271.44" y2="312.1" />
<line x1="610.3" y1="19.9" x2="610.3" y2="39.2" />
<line x1="610.3" y1="302.3" x2="610.3" y2="321.6" />
<line x1="1095.1" y1="19.9" x2="1095.1" y2="39.2" />
<line x1="1095.1" y1="302.3" x2="1095.1" y2="321.6" />
<line x1="1579.9" y1="19.9" x2="1579.9" y2="39.2" />
<line x1="1579.9" y1="302.3" x2="1579.9" y2="321.6" />
<line x1="271.8" y1="273.02" x2="262" y2="273.02" />
<line x1="1714.8" y1="273.02" x2="1705" y2="273.02" />
<line x1="271.8" y1="255.89" x2="262" y2="255.89" />
<line x1="1714.8" y1="255.89" x2="1705" y2="255.89" />
<line x1="271.8" y1="243.73" x2="262" y2="243.73" />
<line x1="1714.8" y1="243.73" x2="1705" y2="243.73" />
<line x1="271.8" y1="234.31" x2="262" y2="234.31" />
<line x1="1714.8" y1="234.31" x2="1705" y2="234.31" />
<line x1="271.8" y1="226.6" x2="262" y2="226.6" />
<line x1="1714.8" y1="226.6" x2="1705" y2="226.6" />
<line x1="271.8" y1="220.09" x2="262" y2="220.09" />
<line x1="1714.8" y1="220.09" x2="1705" y2="220.09" />
<line x1="271.8" y1="214.45" x2="262" y2="214.45" />
<line x1="1714.8" y1="214.45" x2="1705" y2="214.45" />
<line x1="271.8" y1="209.48" x2="262" y2="209.48" />
<line x1="1714.8" y1="209.48" x2="1705" y2="209.48" />
<line x1="271.8" y1="175.74" x2="262" y2="175.74" />
<line x1="1714.8" y1="175.74" x2="1705" y2="175.74" />
<line x1="271.8" y1="158.61" x2="262" y2="158.61" />
<line x1="1714.8" y1="158.61" x2="1705" y2="158.61" />
<line x1="271.8" y1="146.46" x2="262" y2="146.46" />
<line x1="1714.8" y1="146.46" x2="1705" y2="146.46" />
<line x1="271.8" y1="137.03" x2="262" y2="137.03" />
<line x1="1714.8" y1="137.03" x2="1705" y2="137.03" />
<line x1="271.8" y1="129.33" x2="262" y2="129.33" />
<line x1="1714.8" y1="129.33" x2="1705" y2="129.33" />
<line x1="271.8" y1="122.82" x2="262" y2="122.82" />
<line x1="1714.8" y1="122.82" x2="1705" y2="122.82" />
<line x1="271.8" y1="117.18" x2="262" y2="117.18" />
<line x1="1714.8" y1="117.18" x2="1705" y2="117.18" />
<line x1="271.8" y1="112.2" x2="262" y2="112.2" />
<line x1="1714.8" y1="112.2" x2="1705" y2="112.2" />
<line x1="271.8" y1="78.47" x2="262" y2="78.47" />
<line x1="1714.8" y1="78.47" x2="1705" y2="78.47" />
<line x1="271.8" y1="61.34" x2="262" y2="61.34" />
<line x1="1714.8" y1="61.34" x2="1705" y2="61.34" />
<line x1="271.8" y1="49.18" x2="262" y2="49.18" />
<line x1="1714.8" y1="49.18" x2="1705" y2="49.18" />
<line x1="271.8" y1="39.76" x2="262" y2="39.76" />
<line x1="1714.8" y1="39.76" x2="1705" y2="39.76" />
<line x1="271.8" y1="32.05" x2="262" y2="32.05" />
<line x1="1714.8" y1="32.05" x2="1705" y2="32.05" />
<line x1="271.8" y1="25.54" x2="262" y2="25.54" />
<line x1="1714.8" y1="25.54" x2="1705" y2="25.54" />
<line x1="271.8" y1="19.9" x2="262" y2="19.9" />
<line x1="1714.8" y1="19.9" x2="1705" y2="19.9" />
<line x1="271.8" y1="107.75" x2="252.5" y2="107.75" />
<line x1="1714.8" y1="107.75" x2="1695.5" y2="107.75" />
<line x1="271.8" y1="205.02" x2="252.5" y2="205.02" />
<line x1="1714.8" y1="205.02" x2="1695.5" y2="205.02" />
<line x1="271.8" y1="302.3" x2="252.5" y2="302.3" />
<line x1="1714.8" y1="302.3" x2="1695.5" y2="302.3" />
</g>
<rect x="271.8" y="19.9" width="1443" height="282.4" fill="none" stroke="#000" stroke-width="3.9" stroke-linejoin="round"/>
<g stroke="#000" stroke-width="3.6" stroke-linecap="round" fill="none">
<line x1="356.81" y1="369.6" x2="356.81" y2="379.4" />
<line x1="356.81" y1="652" x2="356.81" y2="661.8" />
<line x1="417.38" y1="369.6" x2="417.38" y2="379.4" />
<line x1="417.38" y1="652" x2="417.38" y2="661.8" />
<line x1="464.36" y1="369.6" x2="464.36" y2="379.4" />
<line x1="464.36" y1="652" x2="464.36" y2="661.8" />
<line x1="502.75" y1="369.6" x2="502.75" y2="379.4" />
<line x1="502.75" y1="652" x2="502.75" y2="661.8" />
<line x1="535.2" y1="369.6" x2="535.2" y2="379.4" />
<line x1="535.2" y1="652" x2="535.2" y2="661.8" />
<line x1="563.32" y1="369.6" x2="563.32" y2="379.4" />
<line x1="563.32" y1="652" x2="563.32" y2="661.8" />
<line x1="588.12" y1="369.6" x2="588.12" y2="379.4" />
<line x1="588.12" y1="652" x2="588.12" y2="661.8" />
<line x1="756.24" y1="369.6" x2="756.24" y2="379.4" />
<line x1="756.24" y1="652" x2="756.24" y2="661.8" />
<line x1="841.61" y1="369.6" x2="841.61" y2="379.4" />
<line x1="841.61" y1="652" x2="841.61" y2="661.8" />
<line x1="902.18" y1="369.6" x2="902.18" y2="379.4" />
<line x1="902.18" y1="652" x2="902.18" y2="661.8" />
<line x1="949.16" y1="369.6" x2="949.16" y2="379.4" />
<line x1="949.16" y1="652" x2="949.16" y2="661.8" />
<line x1="987.55" y1="369.6" x2="987.55" y2="379.4" />
<line x1="987.55" y1="652" x2="987.55" y2="661.8" />
<line x1="1020" y1="369.6" x2="1020" y2="379.4" />
<line x1="1020" y1="652" x2="1020" y2="661.8" />
<line x1="1048.12" y1="369.6" x2="1048.12" y2="379.4" />
<line x1="1048.12" y1="652" x2="1048.12" y2="661.8" />
<line x1="1072.92" y1="369.6" x2="1072.92" y2="379.4" />
<line x1="1072.92" y1="652" x2="1072.92" y2="661.8" />
<line x1="1241.04" y1="369.6" x2="1241.04" y2="379.4" />
<line x1="1241.04" y1="652" x2="1241.04" y2="661.8" />
<line x1="1326.41" y1="369.6" x2="1326.41" y2="379.4" />
<line x1="1326.41" y1="652" x2="1326.41" y2="661.8" />
<line x1="1386.98" y1="369.6" x2="1386.98" y2="379.4" />
<line x1="1386.98" y1="652" x2="1386.98" y2="661.8" />
<line x1="1433.96" y1="369.6" x2="1433.96" y2="379.4" />
<line x1="1433.96" y1="652" x2="1433.96" y2="661.8" />
<line x1="1472.35" y1="369.6" x2="1472.35" y2="379.4" />
<line x1="1472.35" y1="652" x2="1472.35" y2="661.8" />
<line x1="1504.8" y1="369.6" x2="1504.8" y2="379.4" />
<line x1="1504.8" y1="652" x2="1504.8" y2="661.8" />
<line x1="1532.92" y1="369.6" x2="1532.92" y2="379.4" />
<line x1="1532.92" y1="652" x2="1532.92" y2="661.8" />
<line x1="1557.72" y1="369.6" x2="1557.72" y2="379.4" />
<line x1="1557.72" y1="652" x2="1557.72" y2="661.8" />
<line x1="271.44" y1="369.6" x2="271.44" y2="379.4" />
<line x1="271.44" y1="652" x2="271.44" y2="661.8" />
<line x1="610.3" y1="369.6" x2="610.3" y2="388.9" />
<line x1="610.3" y1="652" x2="610.3" y2="671.3" />
<line x1="1095.1" y1="369.6" x2="1095.1" y2="388.9" />
<line x1="1095.1" y1="652" x2="1095.1" y2="671.3" />
<line x1="1579.9" y1="369.6" x2="1579.9" y2="388.9" />
<line x1="1579.9" y1="652" x2="1579.9" y2="671.3" />
<line x1="271.8" y1="622.72" x2="262" y2="622.72" />
<line x1="1714.8" y1="622.72" x2="1705" y2="622.72" />
<line x1="271.8" y1="605.59" x2="262" y2="605.59" />
<line x1="1714.8" y1="605.59" x2="1705" y2="605.59" />
<line x1="271.8" y1="593.43" x2="262" y2="593.43" />
<line x1="1714.8" y1="593.43" x2="1705" y2="593.43" />
<line x1="271.8" y1="584.01" x2="262" y2="584.01" />
<line x1="1714.8" y1="584.01" x2="1705" y2="584.01" />
<line x1="271.8" y1="576.3" x2="262" y2="576.3" />
<line x1="1714.8" y1="576.3" x2="1705" y2="576.3" />
<line x1="271.8" y1="569.79" x2="262" y2="569.79" />
<line x1="1714.8" y1="569.79" x2="1705" y2="569.79" />
<line x1="271.8" y1="564.15" x2="262" y2="564.15" />
<line x1="1714.8" y1="564.15" x2="1705" y2="564.15" />
<line x1="271.8" y1="559.18" x2="262" y2="559.18" />
<line x1="1714.8" y1="559.18" x2="1705" y2="559.18" />
<line x1="271.8" y1="525.44" x2="262" y2="525.44" />
<line x1="1714.8" y1="525.44" x2="1705" y2="525.44" />
<line x1="271.8" y1="508.31" x2="262" y2="508.31" />
<line x1="1714.8" y1="508.31" x2="1705" y2="508.31" />
<line x1="271.8" y1="496.16" x2="262" y2="496.16" />
<line x1="1714.8" y1="496.16" x2="1705" y2="496.16" />
<line x1="271.8" y1="486.73" x2="262" y2="486.73" />
<line x1="1714.8" y1="486.73" x2="1705" y2="486.73" />
<line x1="271.8" y1="479.03" x2="262" y2="479.03" />
<line x1="1714.8" y1="479.03" x2="1705" y2="479.03" />
<line x1="271.8" y1="472.52" x2="262" y2="472.52" />
<line x1="1714.8" y1="472.52" x2="1705" y2="472.52" />
<line x1="271.8" y1="466.88" x2="262" y2="466.88" />
<line x1="1714.8" y1="466.88" x2="1705" y2="466.88" />
<line x1="271.8" y1="461.9" x2="262" y2="461.9" />
<line x1="1714.8" y1="461.9" x2="1705" y2="461.9" />
<line x1="271.8" y1="428.17" x2="262" y2="428.17" />
<line x1="1714.8" y1="428.17" x2="1705" y2="428.17" />
<line x1="271.8" y1="411.04" x2="262" y2="411.04" />
<line x1="1714.8" y1="411.04" x2="1705" y2="411.04" />
<line x1="271.8" y1="398.88" x2="262" y2="398.88" />
<line x1="1714.8" y1="398.88" x2="1705" y2="398.88" />
<line x1="271.8" y1="389.46" x2="262" y2="389.46" />
<line x1="1714.8" y1="389.46" x2="1705" y2="389.46" />
<line x1="271.8" y1="381.75" x2="262" y2="381.75" />
<line x1="1714.8" y1="381.75" x2="1705" y2="381.75" />
<line x1="271.8" y1="375.24" x2="262" y2="375.24" />
<line x1="1714.8" y1="375.24" x2="1705" y2="375.24" />
<line x1="271.8" y1="369.6" x2="262" y2="369.6" />
<line x1="1714.8" y1="369.6" x2="1705" y2="369.6" />
<line x1="271.8" y1="457.45" x2="252.5" y2="457.45" />
<line x1="1714.8" y1="457.45" x2="1695.5" y2="457.45" />
<line x1="271.8" y1="554.72" x2="252.5" y2="554.72" />
<line x1="1714.8" y1="554.72" x2="1695.5" y2="554.72" />
<line x1="271.8" y1="652" x2="252.5" y2="652" />
<line x1="1714.8" y1="652" x2="1695.5" y2="652" />
</g>
<rect x="271.8" y="369.6" width="1443" height="282.4" fill="none" stroke="#000" stroke-width="3.9" stroke-linejoin="round"/>
<g stroke="#000" stroke-width="3.6" stroke-linecap="round" fill="none">
<line x1="356.81" y1="718.8" x2="356.81" y2="728.6" />
<line x1="356.81" y1="1001.2" x2="356.81" y2="1011" />
<line x1="417.38" y1="718.8" x2="417.38" y2="728.6" />
<line x1="417.38" y1="1001.2" x2="417.38" y2="1011" />
<line x1="464.36" y1="718.8" x2="464.36" y2="728.6" />
<line x1="464.36" y1="1001.2" x2="464.36" y2="1011" />
<line x1="502.75" y1="718.8" x2="502.75" y2="728.6" />
<line x1="502.75" y1="1001.2" x2="502.75" y2="1011" />
<line x1="535.2" y1="718.8" x2="535.2" y2="728.6" />
<line x1="535.2" y1="1001.2" x2="535.2" y2="1011" />
<line x1="563.32" y1="718.8" x2="563.32" y2="728.6" />
<line x1="563.32" y1="1001.2" x2="563.32" y2="1011" />
<line x1="588.12" y1="718.8" x2="588.12" y2="728.6" />
<line x1="588.12" y1="1001.2" x2="588.12" y2="1011" />
<line x1="756.24" y1="718.8" x2="756.24" y2="728.6" />
<line x1="756.24" y1="1001.2" x2="756.24" y2="1011" />
<line x1="841.61" y1="718.8" x2="841.61" y2="728.6" />
<line x1="841.61" y1="1001.2" x2="841.61" y2="1011" />
<line x1="902.18" y1="718.8" x2="902.18" y2="728.6" />
<line x1="902.18" y1="1001.2" x2="902.18" y2="1011" />
<line x1="949.16" y1="718.8" x2="949.16" y2="728.6" />
<line x1="949.16" y1="1001.2" x2="949.16" y2="1011" />
<line x1="987.55" y1="718.8" x2="987.55" y2="728.6" />
<line x1="987.55" y1="1001.2" x2="987.55" y2="1011" />
<line x1="1020" y1="718.8" x2="1020" y2="728.6" />
<line x1="1020" y1="1001.2" x2="1020" y2="1011" />
<line x1="1048.12" y1="718.8" x2="1048.12" y2="728.6" />
<line x1="1048.12" y1="1001.2" x2="1048.12" y2="1011" />
<line x1="1072.92" y1="718.8" x2="1072.92" y2="728.6" />
<line x1="1072.92" y1="1001.2" x2="1072.92" y2="1011" />
<line x1="1241.04" y1="718.8" x2="1241.04" y2="728.6" />
<line x1="1241.04" y1="1001.2" x2="1241.04" y2="1011" />
<line x1="1326.41" y1="718.8" x2="1326.41" y2="728.6" />
<line x1="1326.41" y1="1001.2" x2="1326.41" y2="1011" />
<line x1="1386.98" y1="718.8" x2="1386.98" y2="728.6" />
<line x1="1386.98" y1="1001.2" x2="1386.98" y2="1011" />
<line x1="1433.96" y1="718.8" x2="1433.96" y2="728.6" />
<line x1="1433.96" y1="1001.2" x2="1433.96" y2="1011" />
<line x1="1472.35" y1="718.8" x2="1472.35" y2="728.6" />
<line x1="1472.35" y1="1001.2" x2="1472.35" y2="1011" />
<line x1="1504.8" y1="718.8" x2="1504.8" y2="728.6" />
<line x1="1504.8" y1="1001.2" x2="1504.8" y2="1011" />
<line x1="1532.92" y1="718.8" x2="1532.92" y2="728.6" />
<line x1="1532.92" y1="1001.2" x2="1532.92" y2="1011" />
<line x1="1557.72" y1="718.8" x2="1557.72" y2="728.6" />
<line x1="1557.72" y1="1001.2" x2="1557.72" y2="1011" />
<line x1="271.44" y1="718.8" x2="271.44" y2="728.6" />
<line x1="271.44" y1="1001.2" x2="271.44" y2="1011" />
<line x1="610.3" y1="718.8" x2="610.3" y2="738.1" />
<line x1="610.3" y1="1001.2" x2="610.3" y2="1020.5" />
<line x1="1095.1" y1="718.8" x2="1095.1" y2="738.1" />
<line x1="1095.1" y1="1001.2" x2="1095.1" y2="1020.5" />
<line x1="1579.9" y1="718.8" x2="1579.9" y2="738.1" />
<line x1="1579.9" y1="1001.2" x2="1579.9" y2="1020.5" />
<line x1="271.8" y1="971.92" x2="262" y2="971.92" />
<line x1="1714.8" y1="971.92" x2="1705" y2="971.92" />
<line x1="271.8" y1="954.79" x2="262" y2="954.79" />
<line x1="1714.8" y1="954.79" x2="1705" y2="954.79" />
<line x1="271.8" y1="942.63" x2="262" y2="942.63" />
<line x1="1714.8" y1="942.63" x2="1705" y2="942.63" />
<line x1="271.8" y1="933.21" x2="262" y2="933.21" />
<line x1="1714.8" y1="933.21" x2="1705" y2="933.21" />
<line x1="271.8" y1="925.5" x2="262" y2="925.5" />
<line x1="1714.8" y1="925.5" x2="1705" y2="925.5" />
<line x1="271.8" y1="918.99" x2="262" y2="918.99" />
<line x1="1714.8" y1="918.99" x2="1705" y2="918.99" />
<line x1="271.8" y1="913.35" x2="262" y2="913.35" />
<line x1="1714.8" y1="913.35" x2="1705" y2="913.35" />
<line x1="271.8" y1="908.38" x2="262" y2="908.38" />
<line x1="1714.8" y1="908.38" x2="1705" y2="908.38" />
<line x1="271.8" y1="874.64" x2="262" y2="874.64" />
<line x1="1714.8" y1="874.64" x2="1705" y2="874.64" />
<line x1="271.8" y1="857.51" x2="262" y2="857.51" />
<line x1="1714.8" y1="857.51" x2="1705" y2="857.51" />
<line x1="271.8" y1="845.36" x2="262" y2="845.36" />
<line x1="1714.8" y1="845.36" x2="1705" y2="845.36" />
<line x1="271.8" y1="835.93" x2="262" y2="835.93" />
<line x1="1714.8" y1="835.93" x2="1705" y2="835.93" />
<line x1="271.8" y1="828.23" x2="262" y2="828.23" />
<line x1="1714.8" y1="828.23" x2="1705" y2="828.23" />
<line x1="271.8" y1="821.72" x2="262" y2="821.72" />
<line x1="1714.8" y1="821.72" x2="1705" y2="821.72" />
<line x1="271.8" y1="816.08" x2="262" y2="816.08" />
<line x1="1714.8" y1="816.08" x2="1705" y2="816.08" />
<line x1="271.8" y1="811.1" x2="262" y2="811.1" />
<line x1="1714.8" y1="811.1" x2="1705" y2="811.1" />
<line x1="271.8" y1="777.37" x2="262" y2="777.37" />
<line x1="1714.8" y1="777.37" x2="1705" y2="777.37" />
<line x1="271.8" y1="760.24" x2="262" y2="760.24" />
<line x1="1714.8" y1="760.24" x2="1705" y2="760.24" />
<line x1="271.8" y1="748.08" x2="262" y2="748.08" />
<line x1="1714.8" y1="748.08" x2="1705" y2="748.08" />
<line x1="271.8" y1="738.66" x2="262" y2="738.66" />
<line x1="1714.8" y1="738.66" x2="1705" y2="738.66" />
<line x1="271.8" y1="730.95" x2="262" y2="730.95" />
<line x1="1714.8" y1="730.95" x2="1705" y2="730.95" />
<line x1="271.8" y1="724.44" x2="262" y2="724.44" />
<line x1="1714.8" y1="724.44" x2="1705" y2="724.44" />
<line x1="271.8" y1="718.8" x2="262" y2="718.8" />
<line x1="1714.8" y1="718.8" x2="1705" y2="718.8" />
<line x1="271.8" y1="806.65" x2="252.5" y2="806.65" />
<line x1="1714.8" y1="806.65" x2="1695.5" y2="806.65" />
<line x1="271.8" y1="903.92" x2="252.5" y2="903.92" />
<line x1="1714.8" y1="903.92" x2="1695.5" y2="903.92" />
<line x1="271.8" y1="1001.2" x2="252.5" y2="1001.2" />
<line x1="1714.8" y1="1001.2" x2="1695.5" y2="1001.2" />
</g>
<rect x="271.8" y="718.8" width="1443" height="282.4" fill="none" stroke="#000" stroke-width="3.9" stroke-linejoin="round"/>
<text x="197.1" y="124.7" font-family="Liberation Sans, Arial, sans-serif" font-weight="bold" font-size="46" text-anchor="end">10</text>
<text x="238.2" y="98.6" font-family="Liberation Sans, Arial, sans-serif" font-weight="bold" font-size="28" text-anchor="end">-12</text>
<text x="197.1" y="221.6" font-family="Liberation Sans, Arial, sans-serif" font-weight="bold" font-size="46" text-anchor="end">10</text>
<text x="238.2" y="196.2" font-family="Liberation Sans, Arial, sans-serif" font-weight="bold" font-size="28" text-anchor="end">-13</text>
<text x="197.1" y="318.9" font-family="Liberation Sans, Arial, sans-serif" font-weight="bold" font-size="46" text-anchor="end">10</text>
<text x="238.2" y="293.5" font-family="Liberation Sans, Arial, sans-serif" font-weight="bold" font-size="28" text-anchor="end">-14</text>
<text x="199.3" y="472.8" font-family="Liberation Sans, Arial, sans-serif" font-weight="bold" font-size="46" text-anchor="end">10</text>
<text x="238.6" y="446.9" font-family="Liberation Sans, Arial, sans-serif" font-weight="bold" font-size="28" text-anchor="end">-12</text>
<text x="199.3" y="570.4" font-family="Liberation Sans, Arial, sans-serif" font-weight="bold" font-size="46" text-anchor="end">10</text>
<text x="238.6" y="544.2" font-family="Liberation Sans, Arial, sans-serif" font-weight="bold" font-size="28" text-anchor="end">-13</text>
<text x="199.3" y="667" font-family="Liberation Sans, Arial, sans-serif" font-weight="bold" font-size="46" text-anchor="end">10</text>
<text x="238.6" y="641.2" font-family="Liberation Sans, Arial, sans-serif" font-weight="bold" font-size="28" text-anchor="end">-14</text>
<text x="199.3" y="821.9" font-family="Liberation Sans, Arial, sans-serif" font-weight="bold" font-size="46" text-anchor="end">10</text>
<text x="238.6" y="796" font-family="Liberation Sans, Arial, sans-serif" font-weight="bold" font-size="28" text-anchor="end">-12</text>
<text x="199.3" y="919.4" font-family="Liberation Sans, Arial, sans-serif" font-weight="bold" font-size="46" text-anchor="end">10</text>
<text x="238.6" y="893.2" font-family="Liberation Sans, Arial, sans-serif" font-weight="bold" font-size="28" text-anchor="end">-13</text>
<text x="199.3" y="1016.6" font-family="Liberation Sans, Arial, sans-serif" font-weight="bold" font-size="46" text-anchor="end">10</text>
<text x="238.6" y="990.4" font-family="Liberation Sans, Arial, sans-serif" font-weight="bold" font-size="28" text-anchor="end">-14</text>
<text x="625.7" y="721.3" font-family="Liberation Sans, Arial, sans-serif" font-size="39.5" text-anchor="end">10</text>
<text x="625.5" y="702" font-family="Liberation Sans, Arial, sans-serif" font-size="22.8">2</text>
<text x="1110.5" y="721.3" font-family="Liberation Sans, Arial, sans-serif" font-size="39.5" text-anchor="end">10</text>
<text x="1110.3" y="702" font-family="Liberation Sans, Arial, sans-serif" font-size="22.8">3</text>
<text x="1595.3" y="721.3" font-family="Liberation Sans, Arial, sans-serif" font-size="39.5" text-anchor="end">10</text>
<text x="1595.1" y="702" font-family="Liberation Sans, Arial, sans-serif" font-size="22.8">4</text>
<text x="627.9" y="1078" font-family="Liberation Sans, Arial, sans-serif" font-weight="bold" font-size="46" text-anchor="end">10</text>
<text x="627.9" y="1052.2" font-family="Liberation Sans, Arial, sans-serif" font-weight="bold" font-size="27.5">2</text>
<text x="1112.7" y="1078" font-family="Liberation Sans, Arial, sans-serif" font-weight="bold" font-size="46" text-anchor="end">10</text>
<text x="1112.7" y="1052.2" font-family="Liberation Sans, Arial, sans-serif" font-weight="bold" font-size="27.5">3</text>
<text x="1597.5" y="1078" font-family="Liberation Sans, Arial, sans-serif" font-weight="bold" font-size="46" text-anchor="end">10</text>
<text x="1597.5" y="1052.2" font-family="Liberation Sans, Arial, sans-serif" font-weight="bold" font-size="27.5">4</text>
<text transform="translate(48.3,542.7) rotate(-90)" font-family="Liberation Sans, Arial, sans-serif" font-weight="bold" font-size="47.5" text-anchor="middle">Allan deviation</text>
<text transform="translate(111.2,192.55) rotate(-90)" font-family="Liberation Sans, Arial, sans-serif" font-weight="bold" font-size="47.5" text-anchor="middle">299</text>
<text transform="translate(117.2,542.75) rotate(-90)" font-family="Liberation Sans, Arial, sans-serif" font-weight="bold" font-size="47.5" text-anchor="middle">300</text>
<text transform="translate(111.2,891.5) rotate(-90)" font-family="Liberation Sans, Arial, sans-serif" font-weight="bold" font-size="47.5" text-anchor="middle">301</text>
<text x="811" y="1162.8" font-family="Liberation Sans, Arial, sans-serif" font-weight="bold" font-size="45.5" textLength="364.5" lengthAdjust="spacing">Average time (s)</text>
</svg>
</body></html>
